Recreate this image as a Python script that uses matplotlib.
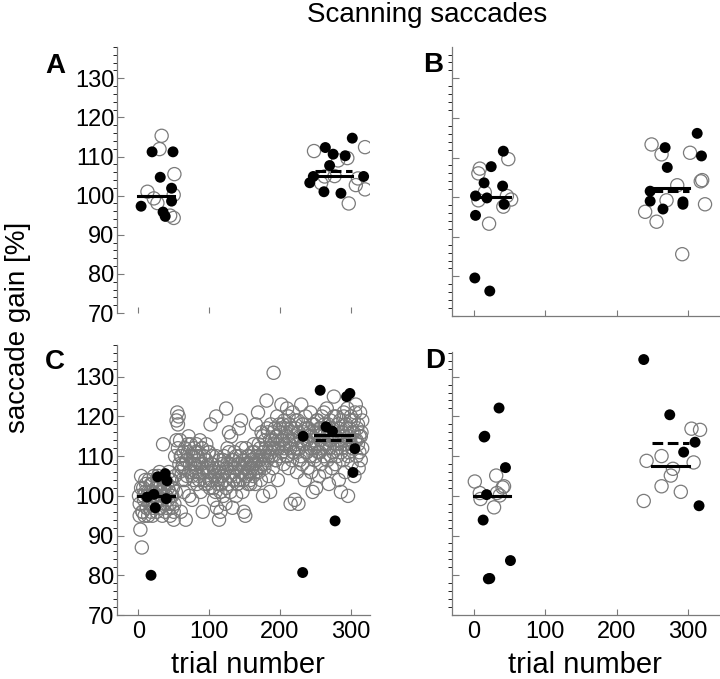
import matplotlib.pyplot as plt
import numpy as np

plt.rcParams['font.family'] = ['Liberation Sans', 'DejaVu Sans']

# ---- data ----
# panel A
a_open_x = [33, 30, 51, 13, 22, 27, 50, 45, 50,
            248, 320, 295, 282, 263, 277, 310, 258, 307, 320, 297]
a_open_y = [115.3, 111.9, 105.5, 101, 99.3, 98.1, 100.2, 94.9, 94.3,
            111.4, 112.4, 109.6, 109, 104.9, 105, 104.4, 103.2, 102.7, 101.6, 98]
a_fill_x = [19.5, 49, 31, 47, 47, 4, 35, 38,
            302, 264, 275, 292, 270, 318, 247, 242, 262, 286]
a_fill_y = [111.2, 111.2, 104.7, 101.9, 98.6, 97.3, 95.8, 94.7,
            114.7, 112.3, 110.6, 110.2, 107.7, 104.9, 104.9, 103.3, 101, 100.6]
a_mean_solid = [100, 104.9]
a_mean_dash = [100, 106.3]

# panel B
b_open_x = [48, 8, 6, 15, 46, 6, 52, 41, 21,
            249, 263, 303, 318, 320, 285, 270, 324, 240, 256, 292]
b_open_y = [109.6, 107.2, 106, 101.2, 100.3, 99.2, 99.4, 97.6, 93.3,
            113.3, 110.8, 111.2, 104, 104.3, 103, 99.2, 98.2, 96.3, 93.8, 85.6]
b_fill_x = [41, 24, 14, 40, 2, 18, 42, 2, 1, 22,
            313, 268, 319, 271, 247, 247, 293, 293, 265]
b_fill_y = [111.6, 107.7, 103.6, 102.8, 100.3, 99.8, 98.2, 95.4, 79.6, 76.3,
            116.1, 112.5, 110.4, 107.5, 101.5, 99, 98.8, 98.2, 97]
b_mean_solid = [100, 102.4]
b_mean_dash = [100, 101.6]

# panel C: every trial (open) plus test saccades (filled)
c_open_y = [
    100, 95, 91.5, 105, 87, 96, 102, 99, 95, 101, 103, 97, 100, 95, 104, 98, 101, 96, 99, 103,
    97, 105, 100, 98, 102, 96, 104, 99, 101, 106, 97, 103, 100, 95, 113, 102, 98, 104, 100, 97,
    103, 99, 106, 101, 95, 100, 104, 97, 102, 94, 98, 105, 101, 114, 121, 118, 120, 108, 114, 96,
    110, 104, 108, 101, 107, 112, 94, 109, 105, 111, 115, 100, 108, 113, 106, 99, 110, 104, 112, 108,
    107, 113, 103, 109, 111, 105, 114, 101, 108, 112, 96, 106, 110, 104, 109, 113, 107, 103, 111, 106,
    102, 118, 108, 104, 110, 107, 99, 105, 101, 120, 97, 106, 104, 94, 109, 96, 103, 108, 105, 100,
    110, 104, 98, 122, 107, 112, 103, 116, 108, 101, 115, 106, 97, 109, 104, 111, 107, 100, 105, 103,
    108, 117, 104, 110, 119, 106, 101, 109, 96, 107, 95, 112, 105, 108, 103, 110, 106, 104, 109, 107,
    111, 105, 113, 108, 103, 118, 107, 110, 121, 106, 109, 112, 104, 116, 108, 100, 111, 107, 114, 110,
    124, 109, 116, 105, 112, 101, 118, 110, 114, 107, 131, 113, 117, 109, 115, 120, 104, 112, 118, 110,
    116, 123, 111, 114, 108, 119, 113, 117, 110, 122, 115, 107, 118, 112, 98, 116, 109, 121, 114, 111,
    99, 117, 113, 106, 119, 98, 112, 115, 110, 123, 108, 118, 113, 116, 104, 120, 111, 114, 107, 117,
    113, 110, 121, 106, 115, 101, 118, 112, 109, 116, 102, 113, 119, 111, 105, 117, 114, 108, 120, 112,
    115, 110, 118, 106, 113, 122, 109, 116, 103, 112, 119, 114, 107, 117, 111, 125, 115, 108, 120, 113,
    110, 117, 104, 114, 119, 101, 112, 116, 109, 121, 115, 106, 118, 113, 122, 100, 111, 117, 114, 120,
    108, 116, 112, 119, 105, 114, 123, 110, 117, 113, 107, 115, 121, 109, 116, 112]
# second saccade recorded on even-numbered trials
c_open2_y = [
    98, 102, 96, 100, 104, 97, 101, 99, 103, 95, 100, 98, 102, 105, 97, 101, 99, 103, 96, 100,
    102, 98, 104, 100, 96, 110, 119, 112, 106, 110, 107, 111, 104, 109, 113, 106, 110, 105, 108, 111,
    106, 110, 104, 108, 112, 107, 103, 109, 106, 111, 104, 108, 102, 106, 110, 103, 107, 101, 105, 109,
    106, 102, 108, 111, 105, 109, 104, 107, 110, 103, 108, 106, 112, 104, 108, 105, 110, 107, 103, 109,
    108, 111, 106, 109, 113, 107, 110, 115, 108, 112, 117, 110, 114, 111, 116, 112, 109, 115, 113, 117,
    114, 118, 112, 116, 110, 120, 113, 117, 111, 115, 119, 112, 116, 109, 114, 118, 113, 117, 111, 115,
    116, 112, 118, 114, 110, 119, 115, 111, 117, 113, 121, 116, 112, 118, 114, 110, 117, 120, 115, 112,
    118, 114, 111, 116, 120, 113, 117, 110, 115, 119, 112, 116, 121, 114, 118, 111, 115, 119]
c_fill_x = [12.6, 22, 24, 27.4, 38, 40.5, 39.5, 18,
            232.6, 256.7, 265, 274, 294, 298.6, 305.6, 303, 277.7, 232]
c_fill_y = [99.7, 100.4, 97, 104.8, 105.6, 103.8, 99.3, 80,
            115, 126.6, 117.4, 116.3, 125, 125.8, 111.9, 105.9, 93.7, 80.7]
c_mean_solid = [100, 115.3]
c_mean_dash = [100, 114.2]

# panel D
d_open_x = [1, 31, 40, 8, 32, 9, 36, 28, 42,
            305, 317, 242, 263, 308, 279, 276, 263, 290, 238]
d_open_y = [103.6, 105.1, 102.1, 100.7, 100.7, 99.2, 100.1, 97.1, 102.4,
            116.9, 116.6, 108.8, 110, 108.4, 106.8, 105.1, 102.4, 101, 98.7]
d_fill_x = [35, 14, 15, 44, 17.5, 12.7, 51, 20, 22,
            238, 274.5, 310, 294, 315.6]
d_fill_y = [122.1, 114.8, 115, 107.1, 100.3, 93.9, 83.7, 79.1, 79.2,
            134.3, 120.4, 113.5, 111, 97.5]
d_mean_solid = [100, 107.4]
d_mean_dash = [100, 113.3]

mean_starts = [0, 250]
mean_ends = [50, 302]

W, H = 720, 679
fig = plt.figure(figsize=(W / 100, H / 100), dpi=100)


def px_axes(left, top, right, bottom):
    return fig.add_axes([left / W, 1 - bottom / H, (right - left) / W, (bottom - top) / H])


axA = px_axes(117, 47, 370, 313)
axB = px_axes(452, 47, 720, 316)
axC = px_axes(117, 345, 370, 615)
axD = px_axes(452, 352, 720, 615)

c_trials = list(np.arange(1, len(c_open_y) + 1))
c_trials2 = list(np.arange(2, 2 * len(c_open2_y) + 1, 2))

panels = [
    (axA, a_open_x, a_open_y, a_fill_x, a_fill_y, a_mean_solid, a_mean_dash),
    (axB, b_open_x, b_open_y, b_fill_x, b_fill_y, b_mean_solid, b_mean_dash),
    (axC, c_trials + c_trials2, c_open_y + c_open2_y, c_fill_x, c_fill_y,
     c_mean_solid, c_mean_dash),
    (axD, d_open_x, d_open_y, d_fill_x, d_fill_y, d_mean_solid, d_mean_dash),
]

grey = '#7a7a7a'
for ax, ox, oy, fx, fy, ms, md in panels:
    ax.scatter(ox, oy, s=90, facecolors='none', edgecolors=grey, linewidths=0.9, zorder=2)
    ax.scatter(fx, fy, s=62, c='black', edgecolors='none', zorder=3)
    for x0, x1, y in zip(mean_starts, mean_ends, md):
        ax.plot([x0, x1], [y, y], color='black', lw=2.2, ls=(0, (3.5, 1.5)), zorder=4)
    for x0, x1, y in zip(mean_starts, mean_ends, ms):
        ax.plot([x0, x1], [y, y], color='black', lw=2.2, zorder=4)

    ax.set_yticks(np.arange(70, 131, 10))
    ax.set_yticks(np.arange(70, 139, 2), minor=True)
    ax.set_xticks([0, 100, 200, 300])
    ax.tick_params(direction='in', color=grey, labelsize=17, pad=2)
    ax.tick_params(axis='y', which='major', length=5, width=0.8)
    ax.tick_params(axis='y', which='minor', length=3, width=0.6)
    ax.tick_params(axis='x', length=4, width=0.8, pad=4)
    for s in ['top', 'right']:
        ax.spines[s].set_visible(False)
    for s in ['left', 'bottom']:
        ax.spines[s].set_color(grey)
        ax.spines[s].set_linewidth(0.9)

for ax in [axA, axC]:
    ax.set_xlim(-30, 327)
    ax.set_ylim(70, 138)
axB.set_xlim(-31, 345)
axB.set_ylim(70, 137.9)
axD.set_xlim(-31, 345)
axD.set_ylim(70, 136.2)

axA.spines['bottom'].set_visible(False)
axA.tick_params(axis='x', labelbottom=False)
axB.tick_params(axis='x', labelbottom=False)
axB.tick_params(axis='y', labelleft=False)
axD.tick_params(axis='y', labelleft=False)

# panel letters
for x, y, letter in [(55, 66, 'A'), (433, 65, 'B'), (55, 362, 'C'), (435, 361, 'D')]:
    fig.text(x / W, 1 - y / H, letter, fontsize=20, fontweight='bold', ha='center', va='center')

fig.text(427 / W, 1 - 15 / H, 'Scanning saccades', fontsize=20, ha='center', va='center')
fig.text(18 / W, 1 - 327 / H, 'saccade gain [%]', fontsize=20, rotation=90, ha='center', va='center')
fig.text(248 / W, 1 - 665 / H, 'trial number', fontsize=21, ha='center', va='center')
fig.text(585 / W, 1 - 665 / H, 'trial number', fontsize=21, ha='center', va='center')

fig.savefig('out.png', dpi=100)
